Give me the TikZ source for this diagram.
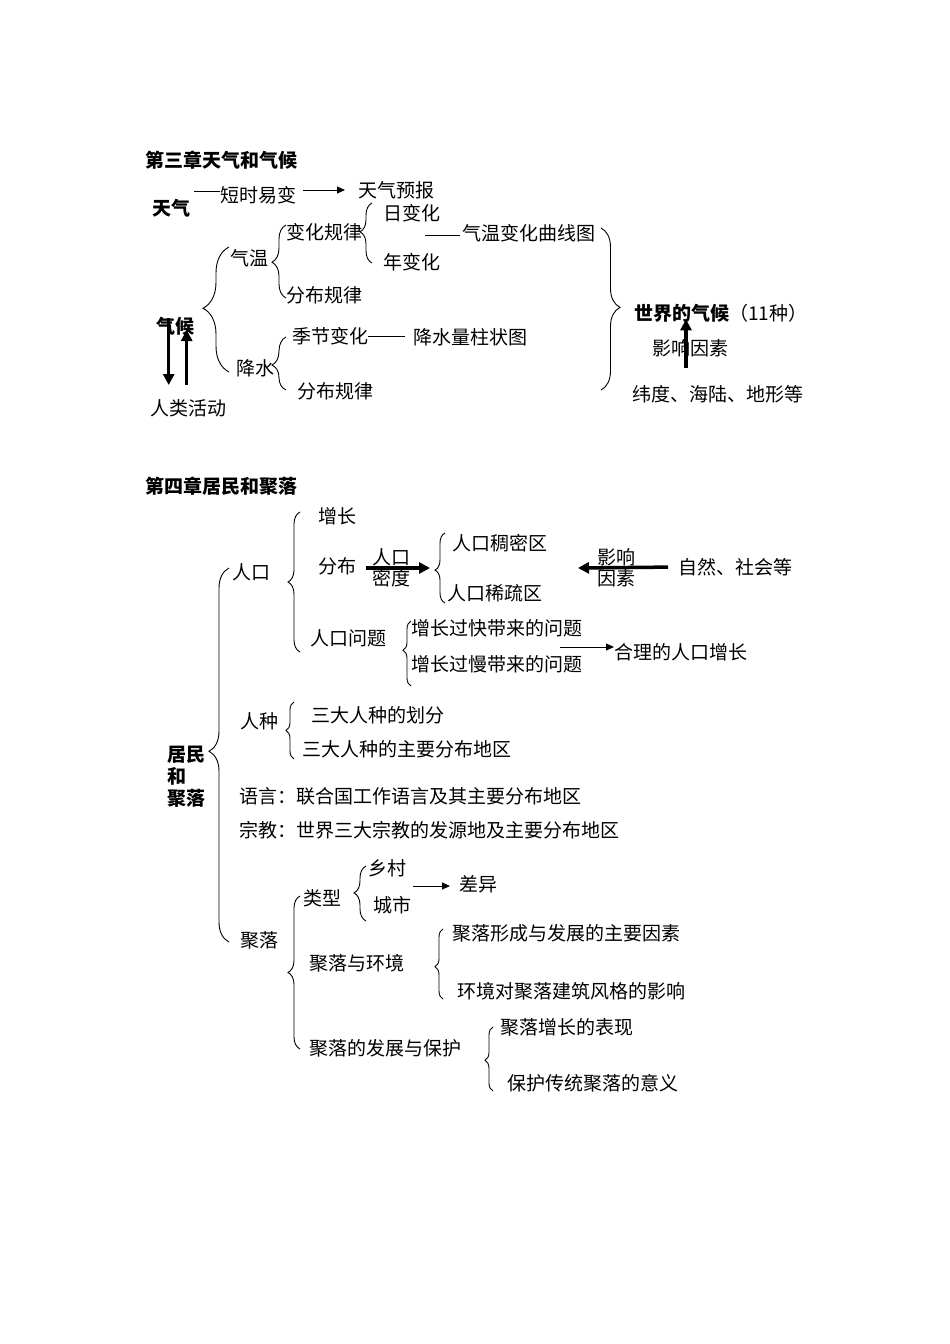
\documentclass[tikz,border=0pt]{standalone}
\usepackage{fontspec}
\setmainfont{Noto Sans CJK SC}
\usetikzlibrary{arrows.meta,positioning,decorations.pathreplacing}
\newcommand{\mapsize}{\fontsize{19}{22}\selectfont}
\tikzset{
  txt/.style={inner sep=0pt, anchor=west, font=\mapsize},
  headtxt/.style={txt, font=\mapsize\bfseries},
  tiptxt/.style={inner sep=0pt, font=\mapsize},
  linkline/.style={line width=0.9pt},
  linkarrow/.style={-{Triangle[length=8pt,width=7pt]}, line width=1pt},
  bigarrow/.style={-{Triangle[length=11pt,width=11pt]}, line width=3.5pt},
  bracel/.style 2 args={decorate, decoration={brace, amplitude=#1, aspect=#2}, line width=0.9pt}
}

\begin{document}
\begin{tikzpicture}[x=1pt, y=-1pt]
  \fill[white] (0,0) rectangle (950,1344);

  % chapter 3: weather and climate
  \node[headtxt] (ch3) at (145,160) {第三章天气和气候};
  \node[headtxt] (tq) at (152,208) {天气};
  \node[txt] (sbyb) at (220,195) {短时易变};
  \node[txt] (tqyb) at (358,190) {天气预报};
  \node[txt] (qw) at (230,258) {气温};
  \node[txt] (bhgl) at (286,232) {变化规律};
  \node[txt] (rbh) at (383,213) {日变化};
  \node[txt] (nbh) at (383,262) {年变化};
  \node[txt] (qxt) at (462,233) {气温变化曲线图};
  \node[txt] (fbgl1) at (286,295) {分布规律};
  \node[headtxt] (qh) at (156,326) {气候};
  \node[txt] (rlhd) at (150,408) {人类活动};
  \node[txt] (js) at (236,368) {降水};
  \node[txt] (jjbh) at (292,336) {季节变化};
  \node[txt] (zzt) at (413,337) {降水量柱状图};
  \node[txt] (fbgl2) at (297,391) {分布规律};
  \node[txt] (sjqh) at (634,313) {\bfseries 世界的气候\mdseries（11种）};
  \node[txt] (yxys1) at (652,348) {影响因素};
  \node[txt] (wdhl) at (632,394) {纬度、海陆、地形等};

  \draw[linkline] ([yshift=4pt]sbyb.west) -- ++(-26,0);
  \draw[linkarrow, shorten <=7pt, shorten >=13pt] (sbyb.east |- tqyb.west) -- (tqyb.west);
  \draw[linkline] ([xshift=-2pt,yshift=-2pt]qxt.west) -- ++(-35,0);
  \draw[linkline, shorten >=8pt] (jjbh.east) -- (jjbh.east -| zzt.west);

  \draw[bracel={12pt}{0.52}] (372,263) -- (372,203);
  \draw[bracel={14pt}{0.49}] (286,298) -- (286,225);
  \draw[bracel={26pt}{0.51}] (229,372) -- (229,247);
  \draw[bracel={14pt}{0.47}] (286,390) -- (286,337);
  \draw[bracel={19pt}{0.49}] (601,228) -- (601,390);

  \draw[bigarrow] ([xshift=-6.5pt,yshift=8pt]qh.center) -- ++(0,67);
  \draw[bigarrow] ([xshift=11.5pt,yshift=-59pt]qh.center) -- ++(0,-55);
  \draw[bigarrow] ([xshift=54pt,yshift=17pt]wdhl.north west) -- ([xshift=52pt,yshift=3pt]sjqh.south west);

  % chapter 4: population and settlements
  \node[headtxt] (ch4) at (145,486) {第四章居民和聚落};
  \node[txt] (zz) at (318,516) {增长};
  \node[txt] (rk) at (232,572) {人口};
  \node[txt] (fb) at (318,566) {分布};
  \node[txt] (rcm) at (452,543) {人口稠密区};
  \node[txt] (rxs) at (447,593) {人口稀疏区};
  \node[txt] (zrsh) at (678,567) {自然、社会等};
  \node[txt] (rkwt) at (310,638) {人口问题};
  \node[txt] (gk) at (411,628) {增长过快带来的问题};
  \node[txt] (gm) at (411,664) {增长过慢带来的问题};
  \node[txt] (hlzz) at (614,652) {合理的人口增长};
  \node[headtxt, align=left] (jmjl) at (167,777) {居民\\和\\聚落};
  \node[txt] (rz) at (240,721) {人种};
  \node[txt] (hf) at (311,715) {三大人种的划分};
  \node[txt] (fbdq) at (302,749) {三大人种的主要分布地区};
  \node[txt] (yy) at (239,796) {语言：联合国工作语言及其主要分布地区};
  \node[txt] (zj) at (239,830) {宗教：世界三大宗教的发源地及主要分布地区};
  \node[txt] (jl) at (240,940) {聚落};
  \node[txt] (lx) at (303,898) {类型};
  \node[txt] (xc) at (368,868) {乡村};
  \node[txt] (cs) at (373,905) {城市};
  \node[txt] (cy) at (459,884) {差异};
  \node[txt] (jlhj) at (309,963) {聚落与环境};
  \node[txt] (xcys) at (452,933) {聚落形成与发展的主要因素};
  \node[txt] (jzfg) at (457,991) {环境对聚落建筑风格的影响};
  \node[txt] (fzbh) at (309,1048) {聚落的发展与保护};
  \node[txt] (zzbx) at (500,1027) {聚落增长的表现};
  \node[txt] (bhyy) at (507,1083) {保护传统聚落的意义};

  \coordinate (mdtip) at (430,568);
  \coordinate (yxtip) at (578,568);
  \coordinate (hlstart) at (560,647);
  \coordinate (cystart) at (413,886);

  \draw[bigarrow, shorten <=10pt] (fb.east |- mdtip) -- (mdtip)
    node[tiptxt, pos=0.48, above] {人口} node[tiptxt, pos=0.48, below] {密度};
  \draw[bigarrow, shorten <=10pt] (zrsh.west) -- (yxtip)
    node[tiptxt, pos=0.62, above] {影响} node[tiptxt, pos=0.62, below] {因素};
  \draw[linkarrow] (hlstart) -- (hlstart -| hlzz.west);
  \draw[linkarrow, shorten >=9pt] (cystart) -- (cystart -| cy.west);

  \draw[bracel={12pt}{0.5}] (300,652) -- (300,512);
  \draw[bracel={10pt}{0.47}] (445,603) -- (445,533);
  \draw[bracel={8pt}{0.55}] (411,686) -- (411,621);
  \draw[bracel={20pt}{0.51}] (229,942) -- (229,568);
  \draw[bracel={8pt}{0.5}] (294,759) -- (294,702);
  \draw[bracel={12pt}{0.5}] (300,1049) -- (300,896);
  \draw[bracel={12pt}{0.51}] (366,921) -- (366,866);
  \draw[bracel={8pt}{0.46}] (443,999) -- (443,929);
  \draw[bracel={8pt}{0.48}] (493,1091) -- (493,1027);
\end{tikzpicture}
\end{document}
